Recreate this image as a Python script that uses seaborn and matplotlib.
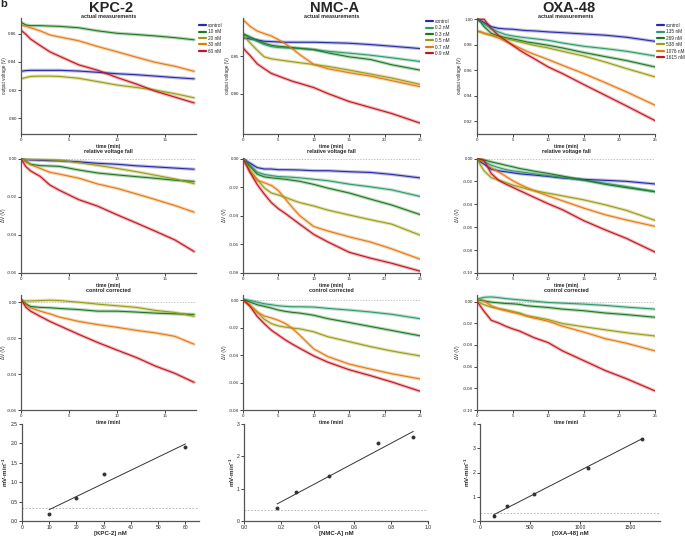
import numpy as np
import pandas as pd
import matplotlib
matplotlib.use("Agg")
import matplotlib.pyplot as plt
import seaborn as sns

# ---------------- data ----------------
# KPC-2
kpc_t = [0, 0.5, 1, 2, 3, 4, 6, 8, 10, 12, 14, 16, 18]
kpc_names = ["control", "10 nM", "20 nM", "30 nM", "60 nM"]
kpc_actual = [
    [0.8333, 0.8338, 0.8340, 0.8340, 0.8340, 0.8340, 0.8335, 0.8326, 0.8316, 0.8309, 0.8299, 0.8289, 0.8280],
    [0.8680, 0.8661, 0.8656, 0.8656, 0.8653, 0.8651, 0.8641, 0.8619, 0.8602, 0.8593, 0.8583, 0.8571, 0.8556],
    [0.8280, 0.8289, 0.8297, 0.8299, 0.8299, 0.8297, 0.8284, 0.8260, 0.8236, 0.8219, 0.8200, 0.8175, 0.8146],
    [0.8661, 0.8651, 0.8641, 0.8619, 0.8590, 0.8576, 0.8549, 0.8508, 0.8471, 0.8433, 0.8396, 0.8369, 0.8333],
    [0.8624, 0.8595, 0.8561, 0.8515, 0.8471, 0.8440, 0.8379, 0.8340, 0.8289, 0.8243, 0.8192, 0.8151, 0.8110],
]
kpc_rel = [
    [0, -0.0003, -0.0005, -0.0007, -0.0009, -0.0010, -0.0015, -0.0023, -0.0028, -0.0036, -0.0042, -0.0048, -0.0054],
    [0, -0.0012, -0.0028, -0.0035, -0.0037, -0.0039, -0.0058, -0.0074, -0.0084, -0.0093, -0.0102, -0.0112, -0.0118],
    [0, -0.0002, -0.0003, -0.0004, -0.0005, -0.0007, -0.0020, -0.0034, -0.0050, -0.0067, -0.0086, -0.0105, -0.0130],
    [0, -0.0015, -0.0030, -0.0050, -0.0070, -0.0080, -0.0101, -0.0132, -0.0155, -0.0184, -0.0214, -0.0245, -0.0280],
    [0, -0.0040, -0.0063, -0.0092, -0.0137, -0.0165, -0.0214, -0.0249, -0.0294, -0.0337, -0.0381, -0.0426, -0.0487],
]
kpc_corr = [
    [0.0013, -0.0009, -0.0024, -0.0029, -0.0031, -0.0035, -0.0041, -0.0050, -0.0050, -0.0055, -0.0061, -0.0065, -0.0068],
    [0.0009, 0.0007, 0.0007, 0.0009, 0.0011, 0.0009, 0.0000, -0.0011, -0.0020, -0.0029, -0.0046, -0.0057, -0.0079],
    [0.0013, -0.0015, -0.0031, -0.0050, -0.0065, -0.0083, -0.0107, -0.0125, -0.0140, -0.0157, -0.0171, -0.0190, -0.0234],
    [0.0018, -0.0028, -0.0050, -0.0079, -0.0107, -0.0131, -0.0179, -0.0225, -0.0267, -0.0308, -0.0356, -0.0396, -0.0446],
]
kpc_conc = [10, 20, 30, 60]
kpc_rate = [0.18, 0.60, 1.20, 1.90]

# NMC-A
nmc_t = [0, 0.5, 1, 2, 3, 4, 5, 6, 7, 8, 10, 12, 15, 18, 21, 25]
nmc_names = ["control", "0.2 nM", "0.3 nM", "0.5 nM", "0.7 nM", "0.9 nM"]
nmc_actual = [
    [0.8743, 0.8739, 0.8730, 0.8717, 0.8699, 0.8695, 0.8690, 0.8686, 0.8686, 0.8686, 0.8686, 0.8681, 0.8673, 0.8655, 0.8633, 0.8602],
    [0.8788, 0.8766, 0.8743, 0.8699, 0.8655, 0.8628, 0.8615, 0.8611, 0.8606, 0.8602, 0.8588, 0.8566, 0.8540, 0.8513, 0.8478, 0.8429],
    [0.8801, 0.8779, 0.8757, 0.8712, 0.8673, 0.8646, 0.8633, 0.8624, 0.8615, 0.8606, 0.8588, 0.8544, 0.8491, 0.8456, 0.8385, 0.8314],
    [0.8774, 0.8730, 0.8677, 0.8580, 0.8491, 0.8465, 0.8451, 0.8438, 0.8425, 0.8412, 0.8389, 0.8363, 0.8314, 0.8261, 0.8208, 0.8124],
    [0.8987, 0.8943, 0.8898, 0.8836, 0.8801, 0.8770, 0.8721, 0.8664, 0.8597, 0.8522, 0.8389, 0.8332, 0.8279, 0.8234, 0.8173, 0.8093],
    [0.8611, 0.8558, 0.8509, 0.8398, 0.8332, 0.8270, 0.8234, 0.8199, 0.8164, 0.8137, 0.8080, 0.8000, 0.7894, 0.7814, 0.7734, 0.7606],
]
nmc_rel = [
    [0, -0.0017, -0.0031, -0.0062, -0.0072, -0.0072, -0.0077, -0.0077, -0.0078, -0.0079, -0.0084, -0.0084, -0.0091, -0.0096, -0.0110, -0.0134],
    [0, -0.0020, -0.0043, -0.0094, -0.0110, -0.0118, -0.0125, -0.0127, -0.0130, -0.0134, -0.0144, -0.0154, -0.0178, -0.0197, -0.0218, -0.0264],
    [0, -0.0025, -0.0055, -0.0108, -0.0127, -0.0134, -0.0139, -0.0144, -0.0151, -0.0158, -0.0180, -0.0206, -0.0240, -0.0283, -0.0324, -0.0391],
    [0, -0.0040, -0.0082, -0.0144, -0.0204, -0.0240, -0.0254, -0.0271, -0.0290, -0.0307, -0.0331, -0.0360, -0.0394, -0.0427, -0.0458, -0.0535],
    [0, -0.0045, -0.0091, -0.0151, -0.0168, -0.0187, -0.0223, -0.0283, -0.0343, -0.0398, -0.0475, -0.0506, -0.0547, -0.0583, -0.0631, -0.0703],
    [0, -0.0045, -0.0096, -0.0180, -0.0247, -0.0307, -0.0350, -0.0384, -0.0421, -0.0458, -0.0530, -0.0583, -0.0655, -0.0696, -0.0732, -0.0787],
]
nmc_corr = [
    [0.0007, 0.0005, 0.0000, -0.0012, -0.0024, -0.0031, -0.0039, -0.0043, -0.0046, -0.0046, -0.0048, -0.0058, -0.0070, -0.0084, -0.0101, -0.0133],
    [0.0007, -0.0002, -0.0012, -0.0031, -0.0043, -0.0055, -0.0070, -0.0080, -0.0087, -0.0092, -0.0108, -0.0133, -0.0161, -0.0190, -0.0219, -0.0258],
    [0.0000, -0.0017, -0.0036, -0.0084, -0.0137, -0.0169, -0.0186, -0.0195, -0.0202, -0.0207, -0.0229, -0.0265, -0.0301, -0.0337, -0.0369, -0.0405],
    [0.0000, -0.0017, -0.0036, -0.0084, -0.0113, -0.0128, -0.0145, -0.0169, -0.0205, -0.0253, -0.0354, -0.0410, -0.0465, -0.0501, -0.0535, -0.0573],
    [0.0007, -0.0017, -0.0043, -0.0116, -0.0169, -0.0217, -0.0253, -0.0289, -0.0320, -0.0349, -0.0405, -0.0451, -0.0506, -0.0549, -0.0595, -0.0663],
]
nmc_conc = [0.18, 0.28, 0.46, 0.73, 0.92]
nmc_rate = [0.40, 0.90, 1.40, 2.40, 2.60]

# OXA-48
oxa_t = [0, 0.5, 1, 2, 3, 4, 5, 6, 7, 8, 10, 12, 15, 18, 21, 25]
oxa_names = ["control", "135 nM", "269 nM", "538 nM", "1076 nM", "1615 nM"]
oxa_actual = [
    [1.0000, 0.9990, 0.9974, 0.9942, 0.9929, 0.9924, 0.9922, 0.9916, 0.9911, 0.9909, 0.9901, 0.9895, 0.9885, 0.9875, 0.9859, 0.9827],
    [1.0000, 0.9984, 0.9963, 0.9927, 0.9901, 0.9880, 0.9869, 0.9861, 0.9854, 0.9848, 0.9835, 0.9814, 0.9788, 0.9770, 0.9749, 0.9712],
    [1.0000, 0.9979, 0.9942, 0.9890, 0.9869, 0.9856, 0.9846, 0.9835, 0.9822, 0.9814, 0.9796, 0.9775, 0.9739, 0.9707, 0.9676, 0.9626],
    [0.9906, 0.9901, 0.9890, 0.9875, 0.9861, 0.9848, 0.9835, 0.9822, 0.9809, 0.9796, 0.9775, 0.9749, 0.9712, 0.9665, 0.9613, 0.9548],
    [0.9906, 0.9901, 0.9890, 0.9875, 0.9854, 0.9827, 0.9801, 0.9775, 0.9749, 0.9726, 0.9684, 0.9639, 0.9574, 0.9503, 0.9430, 0.9326],
    [1.0000, 1.0000, 1.0000, 0.9927, 0.9875, 0.9835, 0.9796, 0.9757, 0.9723, 0.9692, 0.9626, 0.9574, 0.9488, 0.9404, 0.9320, 0.9205],
]
oxa_rel = [
    [0, -0.0029, -0.0049, -0.0092, -0.0107, -0.0115, -0.0124, -0.0133, -0.0139, -0.0144, -0.0156, -0.0170, -0.0182, -0.0190, -0.0199, -0.0222],
    [0, -0.0014, -0.0029, -0.0058, -0.0078, -0.0095, -0.0107, -0.0115, -0.0124, -0.0133, -0.0150, -0.0165, -0.0188, -0.0216, -0.0245, -0.0289],
    [0, -0.0006, -0.0012, -0.0029, -0.0043, -0.0058, -0.0072, -0.0087, -0.0098, -0.0110, -0.0130, -0.0153, -0.0188, -0.0225, -0.0254, -0.0289],
    [0, -0.0058, -0.0107, -0.0167, -0.0188, -0.0208, -0.0231, -0.0248, -0.0266, -0.0280, -0.0303, -0.0326, -0.0361, -0.0404, -0.0453, -0.0540],
    [0, -0.0017, -0.0038, -0.0081, -0.0115, -0.0153, -0.0193, -0.0225, -0.0254, -0.0280, -0.0326, -0.0369, -0.0433, -0.0491, -0.0537, -0.0592],
    [0, -0.0006, -0.0017, -0.0130, -0.0188, -0.0222, -0.0251, -0.0280, -0.0309, -0.0338, -0.0395, -0.0447, -0.0543, -0.0623, -0.0698, -0.0817],
]
oxa_corr = [
    [0.0021, 0.0030, 0.0039, 0.0042, 0.0036, 0.0027, 0.0021, 0.0015, 0.0009, 0.0003, -0.0009, -0.0015, -0.0024, -0.0036, -0.0052, -0.0070],
    [0.0015, 0.0012, 0.0006, -0.0006, -0.0012, -0.0018, -0.0021, -0.0027, -0.0039, -0.0045, -0.0055, -0.0070, -0.0085, -0.0106, -0.0121, -0.0145],
    [0.0000, -0.0015, -0.0030, -0.0052, -0.0064, -0.0076, -0.0091, -0.0106, -0.0130, -0.0142, -0.0167, -0.0203, -0.0233, -0.0261, -0.0288, -0.0318],
    [0.0009, 0.0021, 0.0006, -0.0039, -0.0067, -0.0085, -0.0100, -0.0115, -0.0136, -0.0152, -0.0182, -0.0227, -0.0282, -0.0342, -0.0385, -0.0455],
    [0.0000, -0.0045, -0.0091, -0.0173, -0.0197, -0.0227, -0.0252, -0.0273, -0.0303, -0.0333, -0.0379, -0.0455, -0.0545, -0.0636, -0.0712, -0.0824],
]
oxa_conc = [135, 269, 538, 1076, 1615]
oxa_rate = [0.21, 0.60, 1.10, 2.20, 3.40]

baseline_rate = 0.33

# colours
c_ctrl, c_teal, c_dkgreen, c_olive, c_orange, c_red = "#2a2aa6", "#2f9a6a", "#1e7a22", "#9c9c14", "#e27a12", "#c2141c"
kpc_colors = [c_ctrl, c_dkgreen, c_olive, c_orange, c_red]
six_colors = [c_ctrl, c_teal, c_dkgreen, c_olive, c_orange, c_red]

# ---------------- figure ----------------
sns.set_style("ticks")
plt.rcParams["font.family"] = ["Liberation Sans", "DejaVu Sans"]
plt.rcParams["axes.unicode_minus"] = False
plt.rcParams["mathtext.default"] = "regular"

W, H = 685, 539
fig = plt.figure(figsize=(W / 100, H / 100), dpi=100)


def add_ax(x0, y0, x1, y1):
    return fig.add_axes([x0 / W, 1 - y1 / H, (x1 - x0) / W, (y1 - y0) / H])


def style(ax, size=3.2):
    for s in ["left", "bottom"]:
        ax.spines[s].set_linewidth(0.9)
        ax.spines[s].set_color("#555555")
    sns.despine(ax=ax)
    ax.tick_params(labelsize=size, length=2, width=0.6, pad=1, colors="#222222")


def place_ylabel(ax, x0, x1, lab_x):
    ax.yaxis.set_label_coords((lab_x - x0) / (x1 - x0), 0.5)


def time_panel(ax, t, values, names, colors, xlim, ylim, yticks, ylabel, legend_at=None, zero=False):
    df = pd.DataFrame({
        "time": np.tile(t, len(values)),
        "v": np.concatenate(values),
        "sample": np.repeat(names, len(t)),
    })
    if zero:
        ax.axhline(0, ls=(0, (2, 2)), color="#aaaaaa", lw=0.5, zorder=0)
    sns.lineplot(data=df, x="time", y="v", hue="sample", hue_order=names, palette=colors,
                 lw=2.4, alpha=0.3, estimator=None, legend=False, ax=ax)
    sns.lineplot(data=df, x="time", y="v", hue="sample", hue_order=names, palette=colors,
                 lw=0.8, estimator=None, legend=legend_at is not None, ax=ax)
    ax.set_xlim(*xlim)
    ax.set_ylim(*ylim)
    ax.set_yticks(yticks)
    ax.yaxis.set_major_formatter(matplotlib.ticker.FormatStrFormatter("%.2f"))
    ax.set_xlabel("time (min)", fontsize=3.6, fontweight="bold", labelpad=1)
    ax.set_ylabel(ylabel, fontsize=3.3, va="center")
    style(ax)
    if legend_at is not None:
        h, l = ax.get_legend_handles_labels()
        for hh in h:
            hh.set_linewidth(1.6)
        ax.legend(h, l, loc="upper left", bbox_to_anchor=(legend_at[0] / W, 1 - legend_at[1] / H),
                  bbox_transform=fig.transFigure, frameon=False, fontsize=3.4,
                  handlelength=1.4, handletextpad=0.5, labelspacing=0.3, borderaxespad=0)


def rate_panel(ax, conc, rate, xlim, ylim, xticks, yticks, xlabel, yfmt):
    ax.axhline(baseline_rate, ls=(0, (2, 2)), color="#aaaaaa", lw=0.6, zorder=0)
    sns.regplot(x=conc, y=rate, ci=None, color="black", ax=ax,
                scatter_kws={"s": 8, "linewidths": 0}, line_kws={"lw": 0.7, "color": "#333333"})
    ax.set_xlim(*xlim)
    ax.set_ylim(*ylim)
    ax.set_xticks(xticks)
    ax.set_yticks(yticks)
    ax.yaxis.set_major_formatter(matplotlib.ticker.FormatStrFormatter(yfmt))
    ax.set_xlabel(xlabel, fontsize=4.4, fontweight="bold", labelpad=0.5)
    ax.set_ylabel("mV·min$^{-1}$", fontsize=4.5, fontweight="bold", va="center")
    style(ax, size=3.6)


cols = [
    dict(x0=21, x1=196, title="KPC-2", t=kpc_t, names=kpc_names, colors=kpc_colors,
         actual=kpc_actual, rel=kpc_rel, corr=kpc_corr, xlim=(0, 18.2),
         ylim1=(0.789, 0.871), yt1=[0.80, 0.82, 0.84, 0.86],
         ylim2=(-0.06, 0.0005), yt2=[0.0, -0.02, -0.04, -0.06],
         ylim3=(-0.06, 0.004), leg=(197, 21), ylab_x=5, dlab_x=4,
         conc=kpc_conc, rate=kpc_rate, rx0=22, rx1=199, rxlim=(0, 65), rylim=(0, 2.5), rlab_x=5,
         rxt=[0, 10, 20, 30, 40, 50, 60], ryt=[0, 0.5, 1.0, 1.5, 2.0, 2.5], ryfmt="%.1f", rlab="[KPC-2] nM"),
    dict(x0=243, x1=420, title="NMC-A", t=nmc_t, names=nmc_names, colors=six_colors,
         actual=nmc_actual, rel=nmc_rel, corr=nmc_corr, xlim=(0, 25),
         ylim1=(0.746, 0.901), yt1=[0.80, 0.85],
         ylim2=(-0.08, 0.0005), yt2=[0.0, -0.02, -0.04, -0.06, -0.08],
         ylim3=(-0.08, 0.004), leg=(424, 17), ylab_x=228, dlab_x=225,
         conc=nmc_conc, rate=nmc_rate, rx0=244, rx1=428, rxlim=(0, 1.0), rylim=(0, 3), rlab_x=232,
         rxt=[0, 0.2, 0.4, 0.6, 0.8, 1.0], ryt=[0, 1, 2, 3], ryfmt="%d", rlab="[NMC-A] nM"),
    dict(x0=477, x1=655, title="OXA-48", t=oxa_t, names=oxa_names, colors=six_colors,
         actual=oxa_actual, rel=oxa_rel, corr=oxa_corr, xlim=(0, 25),
         ylim1=(0.910, 1.001), yt1=[0.92, 0.94, 0.96, 0.98, 1.00],
         ylim2=(-0.10, 0.0005), yt2=[0.0, -0.02, -0.04, -0.06, -0.08, -0.10],
         ylim3=(-0.10, 0.006), leg=(655, 21), ylab_x=460, dlab_x=458,
         conc=oxa_conc, rate=oxa_rate, rx0=480, rx1=660, rxlim=(0, 1800), rylim=(0, 4), rlab_x=467,
         rxt=[0, 500, 1000, 1500], ryt=[0, 1, 2, 3, 4], ryfmt="%d", rlab="[OXA-48] nM"),
]

for c in cols:
    xt = list(range(0, int(c["xlim"][1]) + 1, 5))
    cx = (c["x0"] + c["x1"]) / 2 / W
    fig.text(cx + 0.004, 1 - 8 / H, c["title"], ha="center", va="center", fontsize=10.5, fontweight="bold")

    ax1 = add_ax(c["x0"], 18, c["x1"], 134)
    time_panel(ax1, c["t"], c["actual"], c["names"], c["colors"], c["xlim"], c["ylim1"],
               c["yt1"], "output voltage (V)", legend_at=c["leg"])
    ax1.set_xticks(xt)
    place_ylabel(ax1, c["x0"], c["x1"], c["ylab_x"])
    fig.text(cx, 1 - 16 / H, "actual measurements", ha="center", va="center", fontsize=3.9, fontweight="bold")

    ax2 = add_ax(c["x0"], 158, c["x1"], 273)
    time_panel(ax2, c["t"], c["rel"], c["names"], c["colors"], c["xlim"], c["ylim2"],
               c["yt2"], "ΔV (V)", zero=True)
    ax2.set_xticks(xt)
    place_ylabel(ax2, c["x0"], c["x1"], c["dlab_x"])
    fig.text(cx, 1 - 151 / H, "relative voltage fall", ha="center", va="center", fontsize=3.9, fontweight="bold")

    ax3 = add_ax(c["x0"], 295, c["x1"], 410)
    time_panel(ax3, c["t"], c["corr"], c["names"][1:], c["colors"][1:], c["xlim"], c["ylim3"],
               c["yt2"], "ΔV (V)", zero=True)
    ax3.set_xticks(xt)
    place_ylabel(ax3, c["x0"], c["x1"], c["dlab_x"])
    fig.text(cx, 1 - 291 / H, "control corrected", ha="center", va="center", fontsize=3.9, fontweight="bold")

    ax4 = add_ax(c["rx0"], 424, c["rx1"], 521)
    rate_panel(ax4, c["conc"], c["rate"], c["rxlim"], c["rylim"], c["rxt"], c["ryt"], c["rlab"], c["ryfmt"])
    place_ylabel(ax4, c["rx0"], c["rx1"], c["rlab_x"])

fig.text(4 / W, 1 - 4 / H, "b", ha="center", va="center", fontsize=8, fontweight="bold")

fig.savefig("out.png", dpi=100)
